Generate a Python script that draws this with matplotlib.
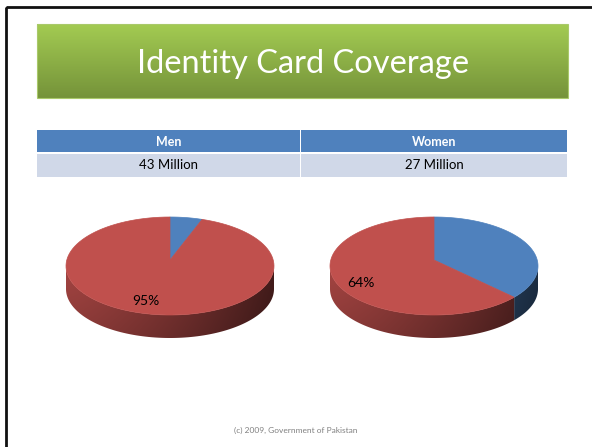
import numpy as np
import matplotlib.pyplot as plt
from matplotlib.patches import Rectangle, Polygon

# data
groups = ['Men', 'Women']
population = ['43 Million', '27 Million']
covered = [95, 64]          # % holding identity card (red slice)
not_covered = [5, 36]       # remaining share (blue slice)

title = 'Identity Card Coverage'
footer = '(c) 2009, Government of Pakistan'

red = np.array([192, 80, 77]) / 255
blue = np.array([79, 129, 189]) / 255

plt.rcParams['font.family'] = ['Lato', 'DejaVu Sans']

fig = plt.figure(figsize=(5.92, 4.47), dpi=100)
ax = fig.add_axes([0, 0, 1, 1])
ax.set_xlim(0, 592)
ax.set_ylim(447, 0)
ax.axis('off')

# slide frame
ax.add_patch(Rectangle((6, 7), 620, 480, fill=False, ec='#111111', lw=2))

# title box with green gradient
grad = np.linspace(0, 1, 100)[:, None]
top_c = np.array([163, 203, 82]) / 255
bot_c = np.array([117, 147, 58]) / 255
img = top_c[None, None, :] * (1 - grad[..., None]) + bot_c[None, None, :] * grad[..., None]
img = np.repeat(img, 2, axis=1)
ax.imshow(img, extent=(37, 568, 98, 24), aspect='auto', zorder=1)
ax.add_patch(Rectangle((37, 24), 531, 74, fill=False, ec='#a9c96a', lw=0.8, zorder=2))
ax.text(303, 64, title, color='white', fontsize=23.5, ha='center', va='center', zorder=3)

# table
col_x = [37, 301]
col_w = [263, 266]
for i, g in enumerate(groups):
    ax.add_patch(Rectangle((col_x[i], 130), col_w[i], 22, color='#4F81BD', lw=0))
    ax.add_patch(Rectangle((col_x[i], 153.5), col_w[i], 23, color='#D0D8E8', lw=0))
    cx = col_x[i] + col_w[i] / 2
    ax.text(cx, 141.5, g, color='white', fontsize=9, fontweight='bold', ha='center', va='center')
    ax.text(cx, 165, population[i], color='black', fontsize=9.5, ha='center', va='center')


def draw_pie(cx, values, colors, label, label_xy):
    a, b, cy, depth = 104, 49, 266, 23
    apex = (cx, 260)
    fracs = np.array(values, dtype=float) / sum(values)
    bounds = np.concatenate([[0], np.cumsum(fracs)]) * 360

    # shading map for the side wall: lighter on the left, darker right and lower
    x0, x1 = cx - a, cx + a
    y0, y1 = cy - 5, cy + b + depth + 1
    xx, yy = np.meshgrid(np.linspace(x0, x1, 200), np.linspace(y0, y1, 60))
    u = (xx - x0) / (x1 - x0)
    v = (yy - y0) / (y1 - y0)
    shade = (0.86 - 0.5 * u ** 1.4) * (1 - 0.18 * v)

    # side wall of each slice in the front half (90..270 deg clockwise from top)
    for s in range(len(values)):
        lo, hi = max(bounds[s], 90), min(bounds[s + 1], 270)
        if hi <= lo:
            continue
        t = np.radians(np.linspace(lo, hi, 100))
        xs, ys = cx + a * np.sin(t), cy - b * np.cos(t)
        pts = list(zip(xs, ys)) + list(zip(xs[::-1], ys[::-1] + depth))
        clip = Polygon(pts, closed=True, fc='none', ec='none', zorder=4)
        ax.add_patch(clip)
        im = ax.imshow(np.clip(shade[..., None] * colors[s][None, None, :], 0, 1),
                       extent=(x0, x1, y1, y0), aspect='auto', zorder=4, interpolation='bilinear')
        im.set_clip_path(clip)

    # top face
    for s in range(len(values)):
        t = np.radians(np.linspace(bounds[s], bounds[s + 1], 120))
        pts = [apex] + list(zip(cx + a * np.sin(t), cy - b * np.cos(t)))
        ax.add_patch(Polygon(pts, closed=True, fc=colors[s], ec=colors[s], lw=0.5, zorder=5))

    ax.text(label_xy[0], label_xy[1], label, fontsize=10, ha='center', va='center', zorder=6)


pie_cx = [170, 434]
label_pos = [(146, 301), (361, 283)]
for i in range(len(groups)):
    draw_pie(pie_cx[i], [not_covered[i], covered[i]], [blue, red],
             f'{covered[i]}%', label_pos[i])

ax.text(296, 430, footer, color='#808080', fontsize=6, ha='center', va='center')

fig.savefig('out.png', dpi=100)
